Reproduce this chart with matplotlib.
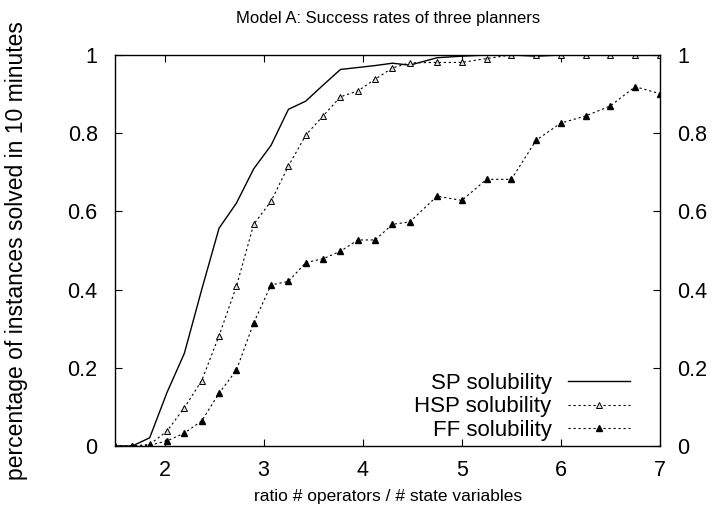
import numpy as np
import matplotlib.pyplot as plt

plt.rcParams['font.family'] = ['Liberation Sans', 'DejaVu Sans']

# ratio of operators to state variables
ratio = [1.5, 1.675, 1.85, 2.025, 2.2, 2.375, 2.55, 2.725, 2.9, 3.075,
         3.25, 3.425, 3.6, 3.775, 3.95, 4.125, 4.3, 4.475,
         4.75, 5.0, 5.25, 5.5, 5.75, 6.0, 6.25, 6.5, 6.75, 7.0]

sp_rate = [0.0, 0.0, 0.021, 0.137, 0.237, 0.400, 0.557, 0.621, 0.709, 0.769,
           0.861, 0.882, 0.923, 0.963, 0.968, 0.973, 0.979, 0.974,
           0.993, 0.997, 1.0, 1.0, 0.997, 1.0, 1.0, 1.0, 1.0, 1.0]

hsp_rate = [0.0, 0.0, 0.004, 0.038, 0.098, 0.167, 0.282, 0.408, 0.567, 0.626,
            0.716, 0.795, 0.844, 0.893, 0.908, 0.938, 0.967, 0.980,
            0.981, 0.981, 0.991, 1.0, 1.0, 1.0, 1.0, 1.0, 1.0, 1.0]

ff_rate = [0.0, 0.0, 0.002, 0.013, 0.033, 0.064, 0.135, 0.194, 0.315, 0.412,
           0.421, 0.469, 0.479, 0.498, 0.527, 0.527, 0.567, 0.573,
           0.639, 0.628, 0.682, 0.682, 0.782, 0.826, 0.844, 0.870, 0.919, 0.901]

fig = plt.figure(figsize=(7.13, 5.17), dpi=100)
ax = fig.add_axes([115 / 713, 1 - 446 / 517, 545 / 713, 391 / 517])

dotted = (0, (2, 2.5))
ax.plot(ratio, sp_rate, color='black', lw=1.0, label='SP solubility')
ax.plot(ratio, hsp_rate, color='black', lw=0.8, ls=dotted, marker='^',
        ms=5, mfc='#dddddd', mec='black', mew=0.7, label='HSP solubility')
ax.plot(ratio, ff_rate, color='black', lw=0.8, ls=dotted, marker='^',
        ms=5, mfc='black', mec='black', label='FF solubility')

ax.set_xlim(1.5, 7)
ax.set_ylim(0, 1)
ax.set_xticks([2, 3, 4, 5, 6, 7])
ax.set_yticks([0, 0.2, 0.4, 0.6, 0.8, 1])
ax.set_yticklabels(['0', '0.2', '0.4', '0.6', '0.8', '1'])
ax.tick_params(direction='in', top=True, right=True, labelright=True,
               labelsize=15.5, length=5, width=0.8)
ax.tick_params(axis='y', pad=12.5)
ax.tick_params(axis='x', pad=10)
for s in ax.spines.values():
    s.set_linewidth(1.0)

fig.text(388 / 713, 1 - 19 / 517, 'Model A: Success rates of three planners',
         fontsize=12, ha='center', va='center')
fig.text(388 / 713, 1 - 497 / 517, 'ratio # operators / # state variables',
         fontsize=12.5, ha='center', va='center')
fig.text(17 / 713, 1 - 251 / 517, 'percentage of instances solved in 10 minutes',
         fontsize=16.5, rotation=90, ha='center', va='center')

leg = ax.legend(loc='lower right', bbox_to_anchor=(0.965, -0.015), frameon=False,
                markerfirst=False, fontsize=16, handlelength=2.8,
                labelspacing=0.11, handletextpad=0.72, borderpad=0.0)
# right-justify the legend rows like gnuplot does
try:
    for col in leg._legend_handle_box.get_children():
        col.align = 'right'
except AttributeError:
    pass

fig.savefig('out.png', dpi=100)
